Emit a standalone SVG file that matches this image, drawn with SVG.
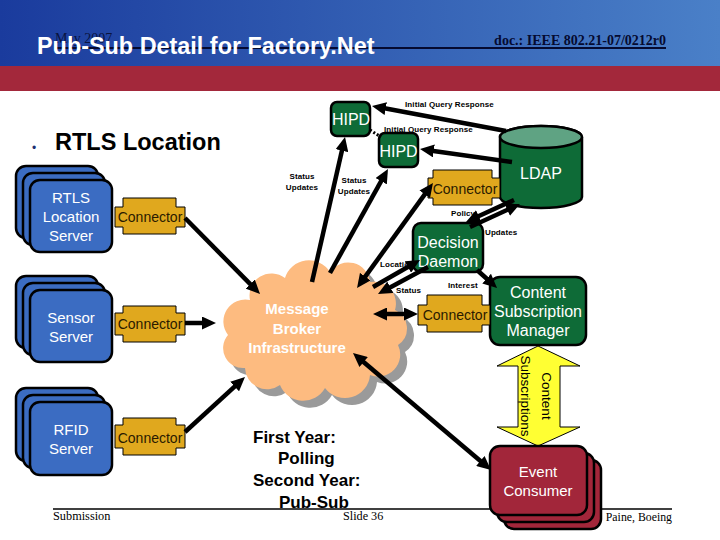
<svg xmlns="http://www.w3.org/2000/svg" width="720" height="540" viewBox="0 0 720 540">
<defs>
<linearGradient id="hdr" x1="0" y1="0" x2="1" y2="0">
<stop offset="0" stop-color="#1a3b9d"/>
<stop offset="1" stop-color="#4a80c8"/>
</linearGradient>
<marker id="ah" viewBox="0 0 14 13" refX="4" refY="6.5" markerWidth="14" markerHeight="13" markerUnits="userSpaceOnUse" orient="auto-start-reverse">
<path d="M0,0 L14,6.5 L0,13 z" fill="#000"/>
</marker>
</defs>
<style>
.sans{font-family:"Liberation Sans",Arial,sans-serif}
.serif{font-family:"Liberation Serif","Times New Roman",serif}
.blue{fill:#3b6cc2;stroke:#000;stroke-width:2.5}
.green{fill:#0e6b37;stroke:#000;stroke-width:2.5}
.maroon{fill:#a2263a;stroke:#000;stroke-width:2.5}
.gold{fill:#e0a81e;stroke:#000;stroke-width:1}
.wt{fill:#fff;font-family:"Liberation Sans",Arial,sans-serif;text-anchor:middle}
.ct{fill:#2a1a00;font-family:"Liberation Sans",Arial,sans-serif;font-size:14px;text-anchor:middle}
.lbl{fill:#000;font-family:"Liberation Sans",Arial,sans-serif;font-size:8px;font-weight:bold;letter-spacing:0.1px}
.arr{stroke:#000;stroke-width:4.5;fill:none}
</style>
<rect x="0" y="0" width="720" height="540" fill="#fff"/>
<!-- header -->
<rect x="0" y="0" width="720" height="66" fill="url(#hdr)"/>
<rect x="0" y="66" width="720" height="25" fill="#a3283b"/>
<text x="55" y="43" class="serif" font-size="14" fill="#0a1440">May 2007</text>
<line x1="55" y1="48" x2="666" y2="48" stroke="#050a30" stroke-width="2"/>
<text x="666" y="45" class="serif" font-size="14" font-weight="bold" fill="#050a30" text-anchor="end">doc.: IEEE 802.21-07/0212r0</text>
<text x="37" y="54" class="sans" font-size="23.4" font-weight="bold" fill="#fff">Pub-Sub Detail for Factory.Net</text>
<!-- heading -->
<text x="32" y="152" class="sans" font-size="12" fill="#1f3070">•</text>
<text x="55" y="150" class="sans" font-size="23.5" font-weight="bold" fill="#000">RTLS Location</text>
<!-- footer -->
<line x1="53" y1="509" x2="672" y2="509" stroke="#000" stroke-width="1.5"/>
<text x="53" y="520" class="serif" font-size="12.3" fill="#000">Submission</text>
<text x="343" y="520" class="serif" font-size="12.2" fill="#000">Slide 36</text>
<text x="672" y="521" class="serif" font-size="11.8" fill="#000" text-anchor="end">Paine, Boeing</text>

<!-- cloud -->
<g id="broker">
<path transform="translate(7,7)" fill="#9a9a9a" d="M250,300 A22,22 0 0 1 285,278 A25,25 0 0 1 330,272 A22,22 0 0 1 370,282 A22,22 0 0 1 395,310 A20,20 0 0 1 398,345 A22,22 0 0 1 370,375 A25,25 0 0 1 325,388 A25,25 0 0 1 280,385 A22,22 0 0 1 245,368 A20,20 0 0 1 228,335 A22,22 0 0 1 250,300 Z"/>
<path fill="#fdbb80" d="M250,300 A22,22 0 0 1 285,278 A25,25 0 0 1 330,272 A22,22 0 0 1 370,282 A22,22 0 0 1 395,310 A20,20 0 0 1 398,345 A22,22 0 0 1 370,375 A25,25 0 0 1 325,388 A25,25 0 0 1 280,385 A22,22 0 0 1 245,368 A20,20 0 0 1 228,335 A22,22 0 0 1 250,300 Z"/>
<text class="wt" font-size="15" font-weight="bold" fill="#fff6ea"><tspan x="297" y="314">Message</tspan><tspan x="297" y="333.5">Broker</tspan><tspan x="297" y="353">Infrastructure</tspan></text>
</g>

<!-- left servers -->
<g id="rtls-server">
<rect class="blue" x="16" y="166" width="82" height="72" rx="10"/>
<rect class="blue" x="23" y="173" width="82" height="72" rx="10"/>
<rect class="blue" x="30" y="180" width="82" height="72" rx="10"/>
<text class="wt" font-size="15"><tspan x="71" y="203">RTLS</tspan><tspan x="71" y="222">Location</tspan><tspan x="71" y="241">Server</tspan></text>
</g>
<g id="rtls-connector">
<path class="gold" d="M115,207 H123 V198 H176 V207 H185 V227 H176 V234 H123 V227 H115 Z"/>
<text class="ct" x="150" y="222">Connector</text>
</g>
<g id="sensor-server">
<rect class="blue" x="16" y="276" width="82" height="72" rx="10"/>
<rect class="blue" x="23" y="283" width="82" height="72" rx="10"/>
<rect class="blue" x="30" y="290" width="82" height="72" rx="10"/>
<text class="wt" font-size="15"><tspan x="71" y="323">Sensor</tspan><tspan x="71" y="342">Server</tspan></text>
</g>
<g id="sensor-connector">
<path class="gold" d="M115,313 H123 V306 H176 V313 H185 V335 H176 V342 H123 V335 H115 Z"/>
<text class="ct" x="150" y="329">Connector</text>
</g>
<g id="rfid-server">
<rect class="blue" x="16" y="388" width="82" height="73" rx="10"/>
<rect class="blue" x="23" y="395" width="82" height="73" rx="10"/>
<rect class="blue" x="30" y="402" width="82" height="73" rx="10"/>
<text class="wt" font-size="15"><tspan x="71" y="435">RFID</tspan><tspan x="71" y="454">Server</tspan></text>
</g>
<g id="rfid-connector">
<path class="gold" d="M115,425 H123 V418 H176 V425 H185 V448 H176 V455 H123 V448 H115 Z"/>
<text class="ct" x="150" y="443">Connector</text>
</g>

<!-- HIPDs -->
<g id="hipd1">
<rect class="green" x="331" y="102" width="39" height="34" rx="6"/>
<text class="wt" x="351" y="125" font-size="16">HIPD</text>
</g>
<g id="hipd2">
<rect class="green" x="379" y="133" width="39" height="34" rx="6"/>
<text class="wt" x="398.5" y="157" font-size="16">HIPD</text>
</g>

<!-- LDAP -->
<g id="ldap">
<path class="green" d="M500,137 V197 A41,11 0 0 0 582,197 V137 A41,11 0 0 0 500,137 Z"/>
<ellipse cx="541" cy="137" rx="41" ry="11" fill="#5fa383" stroke="#000" stroke-width="2.5"/>
<text class="wt" x="541" y="179" font-size="16">LDAP</text>
</g>
<g id="ldap-connector">
<path class="gold" d="M428,178 H433 V170 H492 V178 H500 V198 H492 V205 H433 V198 H428 Z"/>
<text class="ct" x="465" y="194">Connector</text>
</g>

<!-- Decision Daemon -->
<g id="decision-daemon">
<rect class="green" x="413" y="223" width="70" height="49" rx="8"/>
<text class="wt" font-size="16"><tspan x="448" y="248">Decision</tspan><tspan x="448" y="267">Daemon</tspan></text>
</g>

<!-- Content Subscription Manager -->
<g id="csm">
<rect class="green" x="490" y="277" width="96" height="68" rx="10"/>
<text class="wt" font-size="16"><tspan x="538" y="298">Content</tspan><tspan x="538" y="317">Subscription</tspan><tspan x="538" y="336">Manager</tspan></text>
</g>
<g id="csm-connector">
<path class="gold" d="M418,305 H427 V295 H482 V305 H490 V325 H482 V332 H427 V325 H418 Z"/>
<text class="ct" x="455" y="320">Connector</text>
</g>

<!-- Content Subscriptions yellow arrow -->
<g id="content-subscriptions">
<path fill="#ffff33" stroke="#000" stroke-width="1" d="M538,346 L580,366 H560 V427 H580 L538,446 L497,427 H518 V366 H497 Z"/>
<text transform="rotate(90 538 396)" font-size="13.5" class="sans" fill="#000" text-anchor="middle"><tspan x="538" y="392">Content</tspan><tspan x="538" y="413">Subscriptions</tspan></text>
</g>

<!-- Event Consumer -->
<g id="event-consumer">
<rect class="maroon" x="504" y="460" width="97" height="69" rx="10"/>
<rect class="maroon" x="497" y="453" width="97" height="69" rx="10"/>
<rect class="maroon" x="490" y="446" width="97" height="69" rx="10"/>
<text class="wt" font-size="15"><tspan x="538" y="477">Event</tspan><tspan x="538" y="496">Consumer</tspan></text>
</g>

<!-- note -->
<text class="sans" font-size="17" font-weight="bold" fill="#000"><tspan x="253" y="443">First Year:</tspan><tspan x="278" y="464">Polling</tspan><tspan x="253" y="486">Second Year:</tspan><tspan x="279" y="508">Pub-Sub</tspan></text>

<!-- connectors -->
<g id="connectors">
<line class="arr" x1="506" y1="131" x2="381.8" y2="107.8" marker-end="url(#ah)"/>
<line class="arr" x1="512" y1="162" x2="429.9" y2="150.4" marker-end="url(#ah)"/>
<line x1="370" y1="130" x2="381" y2="137" stroke="#000" stroke-width="3" stroke-dasharray="2 2"/>
<line class="arr" x1="312" y1="282" x2="342.8" y2="146.8" marker-end="url(#ah)"/>
<line class="arr" x1="330" y1="273" x2="383.1" y2="177.7" marker-end="url(#ah)"/>
<line class="arr" x1="362.9" y1="279.9" x2="427.1" y2="191.1" marker-start="url(#ah)" marker-end="url(#ah)"/>
<line class="arr" x1="373" y1="287" x2="411.3" y2="265" marker-end="url(#ah)"/>
<line class="arr" x1="428" y1="267" x2="386.8" y2="289.2" marker-end="url(#ah)"/>
<line class="arr" x1="383" y1="314" x2="408" y2="314" marker-start="url(#ah)" marker-end="url(#ah)"/>
<line class="arr" x1="185" y1="323" x2="206" y2="323" marker-end="url(#ah)"/>
<line class="arr" x1="185" y1="218" x2="253" y2="286.9" marker-end="url(#ah)"/>
<line class="arr" x1="185" y1="432" x2="237.6" y2="383.8" marker-end="url(#ah)"/>
<line class="arr" x1="360.6" y1="359.5" x2="483.4" y2="463.5" marker-start="url(#ah)" marker-end="url(#ah)"/>
<line class="arr" x1="514" y1="200" x2="475.1" y2="217.8" marker-end="url(#ah)"/>
<line class="arr" x1="470" y1="227" x2="510.9" y2="208.2" marker-end="url(#ah)"/>
<line class="arr" x1="477" y1="270" x2="489.6" y2="281.3" marker-end="url(#ah)"/>
<text class="lbl" x="405" y="107">Initial Query Response</text>
<text class="lbl" x="384" y="132">Initial Query Response</text>
<text class="lbl" text-anchor="middle"><tspan x="302" y="179">Status</tspan><tspan x="302" y="190">Updates</tspan></text>
<text class="lbl" text-anchor="middle"><tspan x="354" y="183">Status</tspan><tspan x="354" y="194">Updates</tspan></text>
<text class="lbl" x="451" y="216">Policy</text>
<text class="lbl" x="485" y="235">Updates</text>
<text class="lbl" x="380" y="267">Location</text>
<text class="lbl" x="396" y="293">Status</text>
<text class="lbl" x="448" y="288">Interest</text>
</g>
</svg>
